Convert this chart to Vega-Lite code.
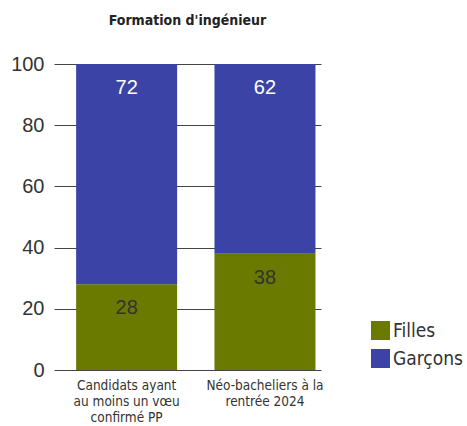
{
  "$schema": "https://vega.github.io/schema/vega-lite/v6.json",
  "width": 267,
  "height": 306,
  "padding": {"left": 10, "top": 14, "right": 0, "bottom": 5},
  "background": "white",
  "title": {
    "text": "Formation d'ingénieur",
    "anchor": "middle",
    "font": "Liberation Sans Narrow, DejaVu Sans Condensed, Roboto",
    "fontSize": 14,
    "fontWeight": "bold",
    "color": "#222",
    "offset": 26
  },
  "config": {
    "view": {"stroke": null},
    "font": "Liberation Sans"
  },
  "data": {
    "values": [
      {"groupe": "Candidats ayant|au moins un vœu|confirmé PP", "sexe": "Filles", "part": 28, "ordre": 1},
      {"groupe": "Candidats ayant|au moins un vœu|confirmé PP", "sexe": "Garçons", "part": 72, "ordre": 2},
      {"groupe": "Néo-bacheliers à la|rentrée 2024", "sexe": "Filles", "part": 38, "ordre": 1},
      {"groupe": "Néo-bacheliers à la|rentrée 2024", "sexe": "Garçons", "part": 62, "ordre": 2}
    ]
  },
  "encoding": {
    "x": {
      "field": "groupe",
      "type": "nominal",
      "sort": null,
      "scale": {"paddingInner": 0.27, "paddingOuter": 0.1, "align": 0.8},
      "axis": {
        "title": null,
        "labelAngle": 0,
        "labelExpr": "split(datum.label, '|')",
        "labelFont": "Liberation Sans Narrow, DejaVu Sans Condensed, Roboto",
        "labelFontSize": 13.5,
        "labelLineHeight": 16,
        "labelColor": "#333",
        "labelPadding": 8,
        "domain": false,
        "ticks": false
      }
    }
  },
  "layer": [
    {
      "mark": {"type": "bar"},
      "encoding": {
        "y": {
          "field": "part",
          "type": "quantitative",
          "stack": "zero",
          "scale": {"domain": [0, 100]},
          "axis": {
            "title": null,
            "values": [0, 20, 40, 60, 80, 100],
            "labelFontSize": 20,
            "labelColor": "#333",
            "labelPadding": 10,
            "ticks": false,
            "domain": false,
            "grid": true,
            "gridColor": "#444",
            "gridWidth": 1,
            "gridOpacity": 1
          }
        },
        "order": {"field": "ordre", "type": "quantitative"},
        "color": {
          "field": "sexe",
          "type": "nominal",
          "scale": {"domain": ["Filles", "Garçons"], "range": ["#6a7a00", "#3b44a6"]},
          "legend": {
            "title": null,
            "orient": "none",
            "legendX": 317,
            "legendY": 257,
            "symbolType": "square",
            "symbolSize": 361,
            "symbolStrokeWidth": 0,
            "labelFont": "Liberation Sans Narrow, DejaVu Sans Condensed, Roboto",
            "labelFontSize": 19,
            "labelColor": "#333",
            "labelOffset": 3,
            "rowPadding": 8
          }
        }
      }
    },
    {
      "mark": {"type": "text", "baseline": "middle", "dy": 24, "fontSize": 20},
      "encoding": {
        "y": {"field": "part", "type": "quantitative", "stack": "zero"},
        "order": {"field": "ordre", "type": "quantitative"},
        "detail": {"field": "sexe", "type": "nominal"},
        "text": {"field": "part", "type": "quantitative"},
        "color": {
          "field": "sexe",
          "type": "nominal",
          "scale": {"domain": ["Filles", "Garçons"], "range": ["#333333", "#ffffff"]},
          "legend": null
        }
      }
    }
  ],
  "resolve": {"scale": {"color": "independent"}}
}
